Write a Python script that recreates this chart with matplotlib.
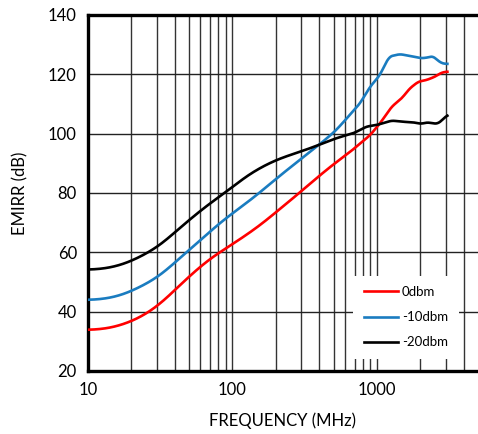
#! /usr/bin/env python3

# EMIRR vs frequency for three input levels

import numpy as np
import matplotlib
matplotlib.use("Agg")
import matplotlib.pyplot as plt
from matplotlib.ticker import FixedLocator, NullFormatter

plt.rcParams['font.family'] = ['Lato', 'DejaVu Sans']

# frequency points (MHz) and EMIRR (dB) for each level
freq_0 = [10, 14, 20, 27, 34, 47, 72, 82, 104, 150, 290, 450, 650, 896,
          1050, 1265, 1483, 1690, 1930, 2210, 2520, 2800, 3070]
emirr_0 = [33.8, 34.3, 36.6, 40.0, 43.9, 50.7, 58.5, 60.0, 63.3, 68.5, 80.0, 88.0,
           93.8, 99.5, 103.5, 109.1, 111.9, 115.3, 117.5, 118.1, 119.2, 120.6, 120.9]

freq_10 = [10, 14, 20, 23, 30, 48, 72, 86, 104, 154, 191, 309, 499, 762, 896,
           1050, 1130, 1220, 1440, 1690, 2030, 2270, 2420, 2620, 2800, 3070]
emirr_10 = [43.9, 44.4, 46.7, 48.5, 51.2, 60.0, 67.5, 70.9, 73.7, 80.0, 84.0, 92.1,
            100.0, 110.2, 115.8, 119.8, 123.1, 126.0, 126.8, 126.2, 125.4, 125.7,
            126.2, 124.8, 123.7, 123.5]

freq_20 = [10, 14, 20, 26, 30, 47, 72, 89, 104, 132, 197, 293, 403, 473, 685, 849,
           995, 1265, 1520, 1790, 2030, 2210, 2620, 2800, 3070]
emirr_20 = [54.1, 54.6, 56.9, 60.0, 61.4, 69.8, 77.1, 80.0, 82.7, 86.6, 91.1, 93.9,
            96.2, 97.9, 100.1, 102.4, 102.9, 104.4, 104.0, 103.8, 103.3, 103.8,
            103.3, 104.4, 106.3]

labels = ['0dbm', '-10dbm', '-20dbm']
colors = ['#ff0000', '#1a7cc0', '#000000']


def box(ys, k):
    pad = np.pad(ys, k // 2, mode='edge')
    return np.convolve(pad, np.ones(k) / k, mode='valid')


def smooth(x, y, n=400):
    # wide window in the low band, narrow one above ~600 MHz
    lx = np.log10(x)
    xs = np.linspace(lx[0], lx[-1], n)
    ys = np.interp(xs, lx, y)
    wide = box(box(ys, 25), 25)
    fine = box(ys, 7)
    w = np.clip((xs - 2.65) / 0.2, 0, 1)
    return 10 ** xs, (1 - w) * wide + w * fine


def main():
    fig = plt.figure(figsize=(4.78, 4.34), dpi=100)
    ax = fig.add_axes([0.1841, 0.1452, 0.8159, 0.8203])

    for f, e, lab, c in zip([freq_0, freq_10, freq_20],
                            [emirr_0, emirr_10, emirr_20], labels, colors):
        xs, ys = smooth(f, e)
        ax.plot(xs, ys, color=c, lw=1.9, label=lab, zorder=3)

    ax.set_xscale('log')
    ax.set_xlim(10, 5000)
    ax.set_ylim(20, 140)
    ax.xaxis.set_major_locator(FixedLocator([10, 100, 1000]))
    ax.xaxis.set_major_formatter(plt.FixedFormatter(['10', '100', '1000']))
    minors = [m * d for d in (10, 100, 1000) for m in range(2, 10)]
    ax.xaxis.set_minor_locator(FixedLocator([m for m in minors if m < 5000]))
    ax.xaxis.set_minor_formatter(NullFormatter())
    ax.set_yticks(range(20, 141, 20))

    ax.grid(True, which='both', axis='x', color='#333333', lw=1.0)
    ax.grid(True, which='major', axis='y', color='#222222', lw=1.0)
    ax.set_axisbelow(True)

    ax.tick_params(which='both', length=0, labelsize=12, pad=8)
    for s in ('left', 'bottom', 'top'):
        ax.spines[s].set_linewidth(2.4)
    ax.spines['right'].set_visible(False)

    ax.set_xlabel('FREQUENCY (MHz)', fontsize=12, labelpad=10)
    ax.set_ylabel('EMIRR (dB)', fontsize=12, labelpad=14)

    leg = ax.legend(loc='lower right', bbox_to_anchor=(0.967, 0.015),
                    frameon=True, fancybox=False, edgecolor='none',
                    facecolor='white', framealpha=1.0, fontsize=9.5,
                    handlelength=2.6, handletextpad=0.3, labelspacing=1.0,
                    borderpad=0.8)
    leg.set_zorder(4)

    fig.savefig('out.png', dpi=100)
    plt.close()


if __name__ == '__main__':
    main()
